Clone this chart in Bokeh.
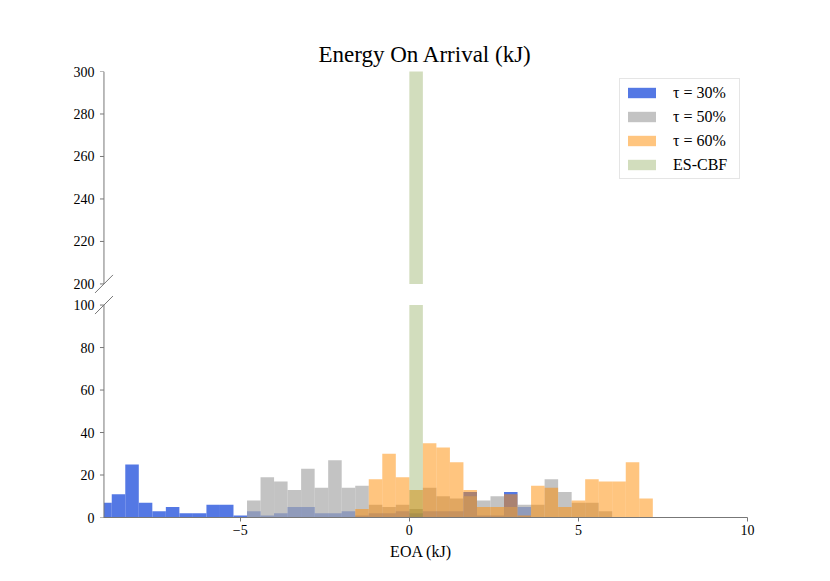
import numpy as np
from bokeh.plotting import figure
from bokeh.layouts import column
from bokeh.models import Range1d, Legend, LegendItem, FixedTicker, ColumnDataSource
from bokeh.embed import file_html
from bokeh.resources import INLINE

# ---------------- data (histogram counts, bin width 0.4) ----------------
bin_width = 0.4

tau30_first_edge = -9.2
tau30_counts = [7, 11, 25, 7, 3, 5, 2, 2, 6, 6, 1, 3, 1, 2, 5, 5, 2, 2, 3,
                1, 2, 2, 3, 2, 3, 3, 3, 12, 1, 1, 12, 5]

tau50_first_edge = -4.8
tau50_counts = [8, 19, 17, 13, 23, 14, 27, 14, 15, 6, 5, 6, 4, 14, 10, 9, 10,
                8, 10, 5, 6, 6, 18, 12, 7, 7, 3]

tau60_first_edge = -1.6
tau60_counts = [4, 18, 30, 19, 13, 35, 33, 26, 13, 5, 5, 11, 1, 15, 14, 5, 8,
                18, 17, 17, 26, 9]

escbf_first_edge = 0.0
escbf_counts = [1000]

series_labels = ["τ = 30%", "τ = 50%", "τ = 60%", "ES-CBF"]
title_text = "Energy On Arrival (kJ)"
xlabel_text = "EOA (kJ)"
x_ticks = [-5, 0, 5, 10]
x_tick_labels = ["−5", "0", "5", "10"]
top_y_ticks = [200, 220, 240, 260, 280, 300]
bottom_y_ticks = [0, 20, 40, 60, 80, 100]
x_limits = (-9.03, 10)
top_limits = (200, 300)
bottom_limits = (0, 100)

styles = [
    dict(fill_color="royalblue", fill_alpha=0.9),
    dict(fill_color="darkgray", fill_alpha=0.7),
    dict(fill_color="darkorange", fill_alpha=0.5),
    dict(fill_color="olivedrab", fill_alpha=0.3),
]

series = [
    (tau30_first_edge, tau30_counts),
    (tau50_first_edge, tau50_counts),
    (tau60_first_edge, tau60_counts),
    (escbf_first_edge, escbf_counts),
]

SERIF = "Liberation Serif"
AXIS_COLOR = "#777777"

# extra room (data units) around the panels so the axis-break marks are not clipped
X_PAD = 0.28
Y_PAD = 4.5
MARK_DX = 0.266
MARK_DY = 4.25
TICK_LEN = 0.118


def make_source(first_edge, counts, lo, hi):
    n = len(counts)
    left = first_edge + bin_width * np.arange(n)
    right = left + bin_width
    left = np.maximum(left, x_limits[0])
    c = np.array(counts, dtype=float)
    top = np.clip(c, lo, hi)
    return ColumnDataSource(dict(left=left, right=right,
                                 bottom=np.full(n, float(lo)), top=top))


def style_axes(p):
    p.xgrid.visible = False
    p.ygrid.visible = False
    p.outline_line_color = None
    p.background_fill_color = "white"
    p.border_fill_color = "white"
    for ax in list(p.xaxis) + list(p.yaxis):
        ax.axis_line_color = AXIS_COLOR
        ax.major_tick_line_color = AXIS_COLOR
        ax.minor_tick_line_color = None
        ax.major_tick_out = 4
        ax.major_tick_in = 0
        ax.major_label_text_font = SERIF
        ax.major_label_text_font_size = "14px"
        ax.major_label_text_color = "black"
    for ax in p.yaxis:
        # spine and ticks are drawn as glyphs at x_limits[0]; axis only supplies labels
        ax.axis_line_color = None
        ax.major_tick_line_color = None
        ax.major_tick_out = 0
        ax.major_label_standoff = 0


def draw_spine(p, lims, ticks):
    x0 = x_limits[0]
    p.segment(x0=[x0], y0=[lims[0]], x1=[x0], y1=[lims[1]],
              line_color=AXIS_COLOR, line_width=1)
    p.segment(x0=[x0 - TICK_LEN] * len(ticks), y0=ticks,
              x1=[x0] * len(ticks), y1=ticks, line_color=AXIS_COLOR, line_width=1)


common = dict(frame_width=653, frame_height=222, output_backend="svg",
              toolbar_location=None, min_border_left=94, min_border_right=60)

p1 = figure(x_range=Range1d(x_limits[0] - X_PAD, x_limits[1]),
            y_range=Range1d(top_limits[0] - Y_PAD, top_limits[1]),
            x_axis_location=None, min_border_top=71, min_border_bottom=0, **common)
p2 = figure(x_range=p1.x_range,
            y_range=Range1d(bottom_limits[0], bottom_limits[1] + Y_PAD),
            min_border_top=2, min_border_bottom=45, **common)

top_renderers = []
for (first_edge, counts), st in zip(series, styles):
    r1 = p1.quad(left="left", right="right", bottom="bottom", top="top",
                 source=make_source(first_edge, counts, top_limits[0], top_limits[1] + 50),
                 line_color=None, **st)
    p2.quad(left="left", right="right", bottom="bottom", top="top",
            source=make_source(first_edge, counts, bottom_limits[0], bottom_limits[1]),
            line_color=None, **st)
    top_renderers.append(r1)

style_axes(p1)
style_axes(p2)
p1.yaxis.ticker = FixedTicker(ticks=top_y_ticks)
p2.yaxis.ticker = FixedTicker(ticks=bottom_y_ticks)
draw_spine(p1, top_limits, top_y_ticks)
draw_spine(p2, bottom_limits, bottom_y_ticks)

p2.xaxis.ticker = FixedTicker(ticks=x_ticks)
p2.xaxis.bounds = x_limits
p2.xaxis.major_label_overrides = {t: lab for t, lab in zip(x_ticks, x_tick_labels)}
p2.xaxis.major_label_standoff = 3
p2.xaxis.axis_label = xlabel_text
p2.xaxis.axis_label_text_font = SERIF
p2.xaxis.axis_label_text_font_size = "16px"
p2.xaxis.axis_label_text_font_style = "normal"
p2.xaxis.axis_label_text_color = "black"
p2.xaxis.axis_label_standoff = 5

p1.title.text = title_text
p1.title.align = "left"
p1.title.offset = 224
p1.title.text_font = SERIF
p1.title.text_font_size = "23px"
p1.title.text_font_style = "normal"
p1.title.text_color = "black"

legend = Legend(
    items=[LegendItem(label=lab, renderers=[r]) for lab, r in zip(series_labels, top_renderers)],
    location="top_right", margin=7, padding=4, spacing=5,
    label_text_font=SERIF, label_text_font_size="16px", label_text_color="black",
    glyph_width=35, glyph_height=13, label_height=19, label_width=62, label_standoff=14,
    border_line_color="#cccccc", border_line_width=1, background_fill_alpha=1.0,
)
p1.add_layout(legend)

# broken-axis marks on the left spine
for p, yb in ((p1, top_limits[0]), (p2, bottom_limits[1])):
    p.segment(x0=[x_limits[0] - MARK_DX], y0=[yb - MARK_DY],
              x1=[x_limits[0] + MARK_DX], y1=[yb + MARK_DY],
              line_color=AXIS_COLOR, line_width=1)

layout = column(p1, p2, spacing=0)
open("out.html", "w").write(file_html(layout, INLINE))
